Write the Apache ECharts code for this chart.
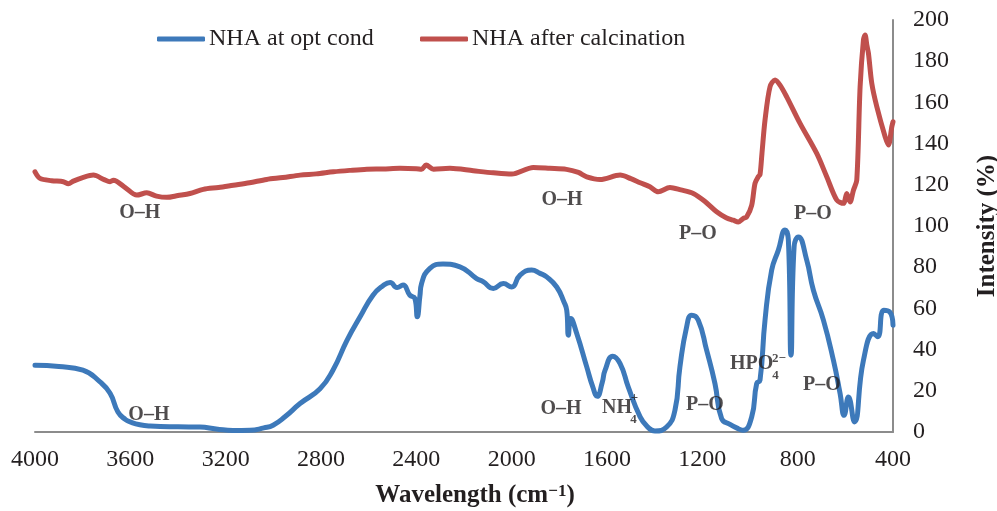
<!DOCTYPE html>
<html>
<head>
<meta charset="utf-8">
<script src="https://cdn.jsdelivr.net/npm/echarts@6/dist/echarts.min.js"></script>
<style>
  html, body { margin: 0; padding: 0; background: #fff; overflow: hidden; }
  #chart { width: 997px; height: 511px; }
</style>
</head>
<body>
<div id="chart"></div>
<script>
// FTIR spectra: wavenumber (cm-1) against intensity (%)
const xTicks = [4000, 3600, 3200, 2800, 2400, 2000, 1600, 1200, 800, 400];
const yTicks = [0, 20, 40, 60, 80, 100, 120, 140, 160, 180, 200];

const seriesNames = ['NHA at opt cond', 'NHA after calcination'];

// NHA at optimum conditions
const optWavenumber = [4000, 3900, 3799, 3727, 3685, 3652, 3620, 3601, 3560, 3517, 3400, 3308, 3240, 3169, 3098, 3040, 3001, 2950, 2888, 2804, 2750, 2691, 2636, 2582, 2540, 2510, 2481, 2456, 2427, 2406, 2396, 2385, 2378, 2343, 2288, 2217, 2147, 2120, 2077, 2035, 2000, 1965, 1916, 1881, 1853, 1811, 1780, 1769, 1762, 1752, 1727, 1685, 1660, 1641, 1620, 1608, 1576, 1545, 1511, 1461, 1430, 1399, 1350, 1315, 1294, 1266, 1245, 1217, 1182, 1147, 1119, 1084, 1049, 1028, 993, 972, 958, 937, 909, 881, 853, 839, 828, 815, 797, 762, 734, 692, 650, 622, 605, 587, 562, 524, 481, 464, 439, 414, 400];
const optIntensity = [32.4, 31.8, 30, 24.3, 18.8, 9.7, 6, 4.9, 3.5, 2.9, 2.5, 2.4, 1.5, 0.7, 0.8, 2, 3.3, 7.5, 13.8, 21, 30, 44.5, 55.9, 66.4, 71, 72.6, 70.1, 71.3, 66.4, 64.8, 55.9, 66, 72.1, 79.4, 81.5, 80.2, 74.5, 73, 69.7, 72.1, 70.4, 76.1, 78.6, 77, 75.3, 70.4, 63, 59.1, 47, 55.1, 47.8, 31.6, 22, 17.3, 24, 30, 36.8, 33.2, 21.9, 7.3, 2.5, 0.5, 2.4, 10.5, 31.6, 51, 56.7, 54.3, 39.7, 23.5, 6.5, 3.7, 1.6, 0.8, 7.3, 23.5, 25.1, 54.3, 78.6, 88.3, 98, 93.1, 37.3, 89.9, 94.7, 83.4, 68.8, 54.3, 34.8, 18.7, 8.1, 17, 4.9, 34.8, 47.8, 46.2, 59.1, 58.3, 51.8];

// NHA after calcination
const calcWavenumber = [4000, 3979, 3930, 3881, 3860, 3839, 3800, 3755, 3710, 3685, 3671, 3620, 3573, 3531, 3490, 3447, 3400, 3350, 3294, 3230, 3168, 3100, 3028, 2960, 2888, 2820, 2748, 2680, 2608, 2540, 2469, 2400, 2378, 2359, 2328, 2259, 2161, 2077, 2000, 1909, 1840, 1770, 1720, 1685, 1629, 1545, 1500, 1461, 1420, 1385, 1336, 1290, 1238, 1190, 1140, 1100, 1070, 1049, 1028, 1014, 993, 979, 965, 958, 950, 937, 916, 895, 874, 846, 790, 720, 678, 636, 608, 594, 580, 566, 552, 538, 524, 517, 510, 503, 489, 468, 433, 419, 405, 400];
const calcIntensity = [126.3, 123.1, 122, 121.5, 120.5, 121.8, 123.5, 124.7, 122.5, 121.5, 122.2, 118.5, 115, 116.1, 114.5, 113.9, 114.8, 115.8, 117.8, 118.7, 119.8, 121, 122.6, 123.5, 124.7, 125.3, 126.3, 127, 127.6, 127.7, 128, 127.8, 127.5, 129.6, 127.6, 128, 126.8, 125.8, 125.2, 128.4, 128, 127.5, 126, 123.9, 122.6, 124.7, 123, 121, 119, 116.6, 118.7, 117.5, 115.8, 112, 106.9, 104, 102.8, 102, 103.7, 104.4, 110, 120.7, 124, 125, 135, 151.4, 167.6, 170.9, 168.4, 162.7, 149.8, 135.2, 123.9, 112.6, 111, 115.8, 111.7, 117.4, 122.3, 167.6, 190.3, 192.7, 188, 183.8, 169.2, 157.9, 143.3, 139.3, 148.2, 150.6];

// band assignments: [wavenumber, intensity, text]
const bandLabels = [
  [3560, 106.2, 'O\u2013H'],
  [1789, 112.8, 'O\u2013H'],
  [1219, 96.3, 'P\u2013O'],
  [736, 106, 'P\u2013O'],
  [3522, 8.4, 'O\u2013H'],
  [1793, 11.4, 'O\u2013H'],
  [1558, 11.5, 'NH'],
  [1189, 13, 'P\u2013O'],
  [993, 32.9, 'HPO'],
  [698, 22.7, 'P\u2013O']
];
// sub- and superscripts of the ion formulas
const bandScripts = [
  [1489, 5.9, '4'],
  [1485, 16.9, '+'],
  [893, 27.3, '4'],
  [878, 35.6, '2\u2212']
];

const BLUE = '#3D79BA';
const RED = '#C0504D';
const TEXT = '#231F20';
const AXIS = '#8C8C8C';
const SERIF = '"Liberation Serif", "Times New Roman", serif';

const zip = (xs, ys) => xs.map((x, i) => [x, ys[i]]);

const chart = echarts.init(document.getElementById('chart'), null, { renderer: 'canvas' });

const legendBase = {
  icon: 'roundRect', itemWidth: 48, itemHeight: 5, itemGap: 0, top: 22,
  textStyle: { fontFamily: SERIF, fontSize: 24, color: TEXT, padding: [0, 0, 0, -1] }
};

chart.setOption({
  animation: false,
  backgroundColor: '#fff',
  textStyle: { fontFamily: SERIF, color: TEXT },
  grid: { left: 35, right: 104, top: 20, bottom: 79, containLabel: false, outerBoundsMode: 'none' },
  legend: [
    Object.assign({ data: [seriesNames[0]], left: 152 }, legendBase),
    Object.assign({ data: [seriesNames[1]], left: 415 }, legendBase)
  ],
  xAxis: {
    type: 'value',
    inverse: true,
    min: xTicks[xTicks.length - 1],
    max: xTicks[0],
    interval: 400,
    name: 'Wavelength (cm{s|\u22121})',
    nameLocation: 'middle',
    nameGap: 51,
    nameTextStyle: {
      fontFamily: SERIF, fontSize: 25, fontWeight: 'bold', color: TEXT,
      padding: [0, 0, 0, 22],
      rich: { s: { fontFamily: SERIF, fontSize: 17, fontWeight: 'bold', color: TEXT, padding: [0, 0, 9, 0] } }
    },
    axisLine: { show: true, lineStyle: { color: AXIS, width: 2 } },
    axisTick: { show: false },
    splitLine: { show: false },
    axisLabel: { fontFamily: SERIF, fontSize: 24, color: TEXT, margin: 16, formatter: v => String(v) }
  },
  yAxis: {
    type: 'value',
    position: 'right',
    min: yTicks[0],
    max: yTicks[yTicks.length - 1],
    interval: 20,
    name: 'Intensity (%)',
    nameLocation: 'middle',
    nameRotate: 90,
    nameGap: 82,
    nameTextStyle: { fontFamily: SERIF, fontSize: 25, fontWeight: 'bold', color: TEXT },
    axisLine: { show: true, lineStyle: { color: AXIS, width: 2 } },
    axisTick: { show: false },
    splitLine: { show: false },
    axisLabel: { fontFamily: SERIF, fontSize: 24, color: TEXT, margin: 20, formatter: v => String(v) }
  },
  series: [
    {
      name: seriesNames[0],
      type: 'line',
      data: zip(optWavenumber, optIntensity),
      showSymbol: false,
      symbol: 'none',
      smooth: 0.5,
      color: BLUE,
      lineStyle: { color: BLUE, width: 5, cap: 'round', join: 'round' },
      z: 3
    },
    {
      name: seriesNames[1],
      type: 'line',
      data: zip(calcWavenumber, calcIntensity),
      showSymbol: false,
      symbol: 'none',
      smooth: 0.3,
      color: RED,
      lineStyle: { color: RED, width: 5, cap: 'round', join: 'round' },
      z: 2
    },
    {
      name: 'bands',
      type: 'scatter',
      data: bandLabels,
      symbolSize: 0,
      silent: true,
      z: 5,
      label: {
        show: true, position: 'inside',
        formatter: p => p.data[2],
        fontFamily: SERIF, fontSize: 20, fontWeight: 'bold', color: TEXT
      }
    },
    {
      name: 'band scripts',
      type: 'scatter',
      data: bandScripts,
      symbolSize: 0,
      silent: true,
      z: 5,
      label: {
        show: true, position: 'inside',
        formatter: p => p.data[2],
        fontFamily: SERIF, fontSize: 13, fontWeight: 'bold', color: TEXT
      }
    }
  ]
});
</script>
</body>
</html>
